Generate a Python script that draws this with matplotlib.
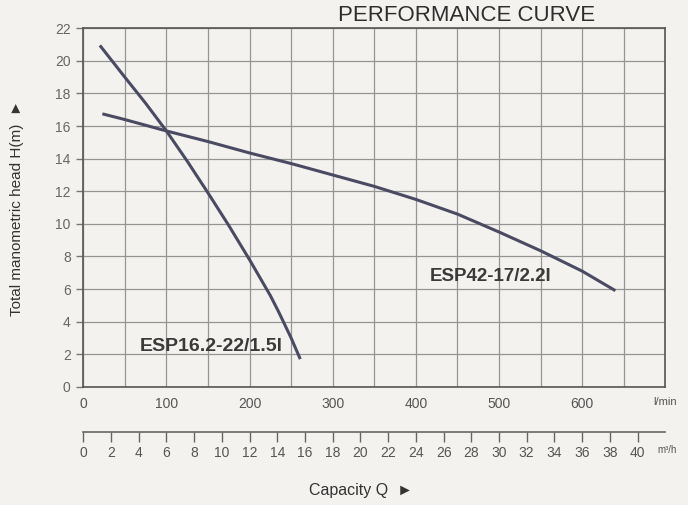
import numpy as np
import matplotlib
matplotlib.use("Agg")
import matplotlib.pyplot as plt

# pump curves, Q in l/min, H in m
q_esp16 = [20, 50, 75, 100, 125, 150, 175, 200, 225, 235, 250, 261]
h_esp16 = [20.95, 19.0, 17.4, 15.7, 13.85, 11.9, 9.9, 7.8, 5.6, 4.6, 3.0, 1.7]

q_esp42 = [23, 50, 100, 150, 200, 250, 300, 350, 400, 450, 500, 550, 600, 640]
h_esp42 = [16.75, 16.4, 15.7, 15.05, 14.35, 13.7, 13.0, 12.3, 11.5, 10.6, 9.5, 8.35, 7.1, 5.9]

lpm_ticks = [0, 100, 200, 300, 400, 500, 600, 700]
lpm_labels = ['0', '100', '200', '300', '400', '500', '600', 'l/min']
m3h_ticks = list(range(0, 41, 2))
m3h_labels = [str(t) for t in m3h_ticks]

plt.rcParams['font.family'] = ['Liberation Sans', 'DejaVu Sans']
paper = '#f3f2ef'
ink = '#333333'
curve_col = '#4a4b63'

fig = plt.figure(figsize=(6.88, 5.05), dpi=100, facecolor=paper)
ax = fig.add_axes([0.121, 0.234, 0.846, 0.71], facecolor=paper)

ax.plot(q_esp16, h_esp16, color=curve_col, lw=2.2, solid_capstyle='butt')
ax.plot(q_esp42, h_esp42, color=curve_col, lw=2.2, solid_capstyle='butt')

ax.text(68, 2.5, 'ESP16.2-22/1.5l', fontsize=14, fontweight='bold', color='#3a3a3a', va='center', ha='left')
ax.text(417, 6.8, 'ESP42-17/2.2l', fontsize=13.5, fontweight='bold', color='#3a3a3a', va='center', ha='left')

ax.set_xlim(0, 700)
ax.set_ylim(0, 22)
ax.set_xticks(np.arange(0, 701, 50), minor=True)
ax.set_xticks(lpm_ticks)
ax.set_xticklabels(lpm_labels)
ax.set_yticks(np.arange(0, 23, 2))
ax.grid(True, which='both', color='#959595', lw=0.9)
ax.set_axisbelow(True)
for s in ax.spines.values():
    s.set_color('#555555')
    s.set_linewidth(1.2)

ax.tick_params(axis='x', which='both', length=0, pad=7, labelsize=10, labelcolor='#555555')
ax.tick_params(axis='y', length=5, width=1, color='#777777', pad=4, labelsize=10, labelcolor='#666666')
for lab in ax.get_xticklabels():
    if lab.get_text() == 'l/min':
        lab.set_fontsize(8)

# second scale in m3/h under the l/min scale
sec = ax.secondary_xaxis(-0.125, functions=(lambda q: q * 60 / 1000, lambda m: m * 1000 / 60))
sec.set_xticks(m3h_ticks)
sec.set_xticklabels(m3h_labels)
sec.tick_params(direction='out', length=7, width=1, color='#666666', pad=3,
                labelsize=10, labelcolor='#555555')
sec.spines['bottom'].set_color('#666666')
sec.spines['bottom'].set_linewidth(1.2)
ax.annotate('m³/h', xy=(40 * 1000 / 60, -0.125), xycoords=('data', 'axes fraction'),
            xytext=(14, -17), textcoords='offset points', fontsize=7, color='#555555',
            ha='left', va='bottom')

ax.set_ylabel('Total manometric head H(m)  \u25ba', fontsize=11, color=ink, labelpad=22)
fig.text(0.525, 0.028, 'Capacity Q  \u25ba', fontsize=11.5, color=ink, ha='center', va='center')

fig.text(0.865, 0.958, 'PERFORMANCE CURVE', fontsize=16, color='#2e2e2e', ha='right', va='baseline')

fig.savefig('out.png', dpi=100, facecolor=paper)
